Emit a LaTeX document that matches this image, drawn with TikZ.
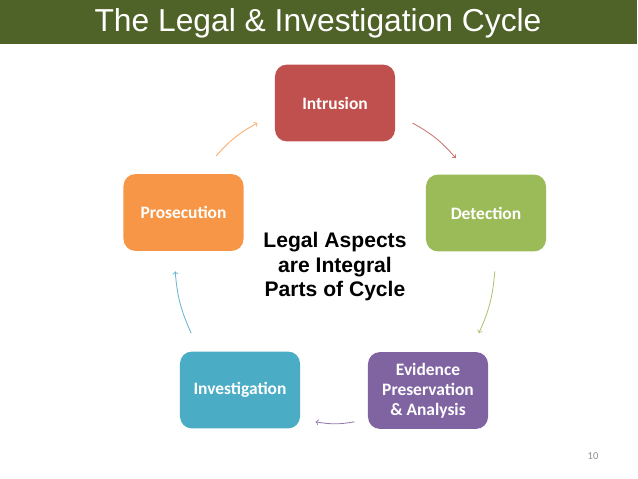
\documentclass[tikz,border=0pt]{standalone}
\usepackage{fontspec}
\setmainfont{Liberation Sans}
\newfontfamily\carlito{Carlito}
\usepackage{xcolor}
\usepackage{tikz}
\usetikzlibrary{arrows,positioning,calc}

\definecolor{titlegreen}{HTML}{4F6228}
\definecolor{intrred}{HTML}{C0504D}
\definecolor{detgreen}{HTML}{9BBB59}
\definecolor{evipurple}{HTML}{8064A2}
\definecolor{invblue}{HTML}{4BACC6}
\definecolor{prosorange}{HTML}{F79646}

\begin{document}
\begin{tikzpicture}[x=0.025cm, y=0.025cm,
  stage/.style={rectangle, rounded corners=8.5pt, minimum width=3cm, minimum height=1.92cm, inner sep=2pt, align=center, text=white, font=\carlito\bfseries\fontsize{12.4}{14.2}\selectfont},
  cyc/.style={->, line width=0.6pt, bend left=10}]

\useasboundingbox (0,0) rectangle (638,479);

\fill[titlegreen] (0,435) rectangle (637,479);
\node[text=white, font=\fontsize{22.6}{26}\selectfont] (title) at (318,456) {The Legal \& Investigation Cycle};

\node[stage, fill=intrred] (intrusion) at (335,376) {Intrusion};
\node[stage, fill=detgreen] (detection) at (486,266) {Detection};
\node[stage, fill=evipurple] (evidence) at (428,88.5) {Evidence\\Preservation\\\& Analysis};
\node[stage, fill=invblue] (investigation) at (240,89) {Investigation};
\node[stage, fill=prosorange] (prosecution) at (183.5,266.5) {Prosecution};

\node[align=center, font=\bfseries\fontsize{15}{17.4}\selectfont] (aspects) at (335,212) {Legal Aspects\\are Integral\\Parts of Cycle};

\node[text=black!45, font=\carlito\fontsize{7.5}{9}\selectfont] (pagenum) at (593,23) {10};

\coordinate (ctr) at (335,216);
\coordinate (ps) at ($(ctr)+(138:160)$);
\coordinate (pe) at ($(ctr)+(119:160)$);
\coordinate (is) at ($(ctr)+(61:160)$);
\coordinate (ie) at ($(ctr)+(41:160)$);
\coordinate (ds) at ($(ctr)+(-3:160)$);
\coordinate (de) at ($(ctr)+(-26:160)$);
\coordinate (es) at ($(ctr)+(-83:160)$);
\coordinate (ee) at ($(ctr)+(-97:160)$);
\coordinate (vs) at ($(ctr)+(-154:160)$);
\coordinate (ve) at ($(ctr)+(-177:160)$);

\draw[cyc, prosorange!80] (ps) to (pe);
\draw[cyc, intrred!80] (is) to (ie);
\draw[cyc, detgreen!85] (ds) to (de);
\draw[cyc, evipurple!85] (es) to (ee);
\draw[cyc, invblue!85] (vs) to (ve);

\end{tikzpicture}
\end{document}
